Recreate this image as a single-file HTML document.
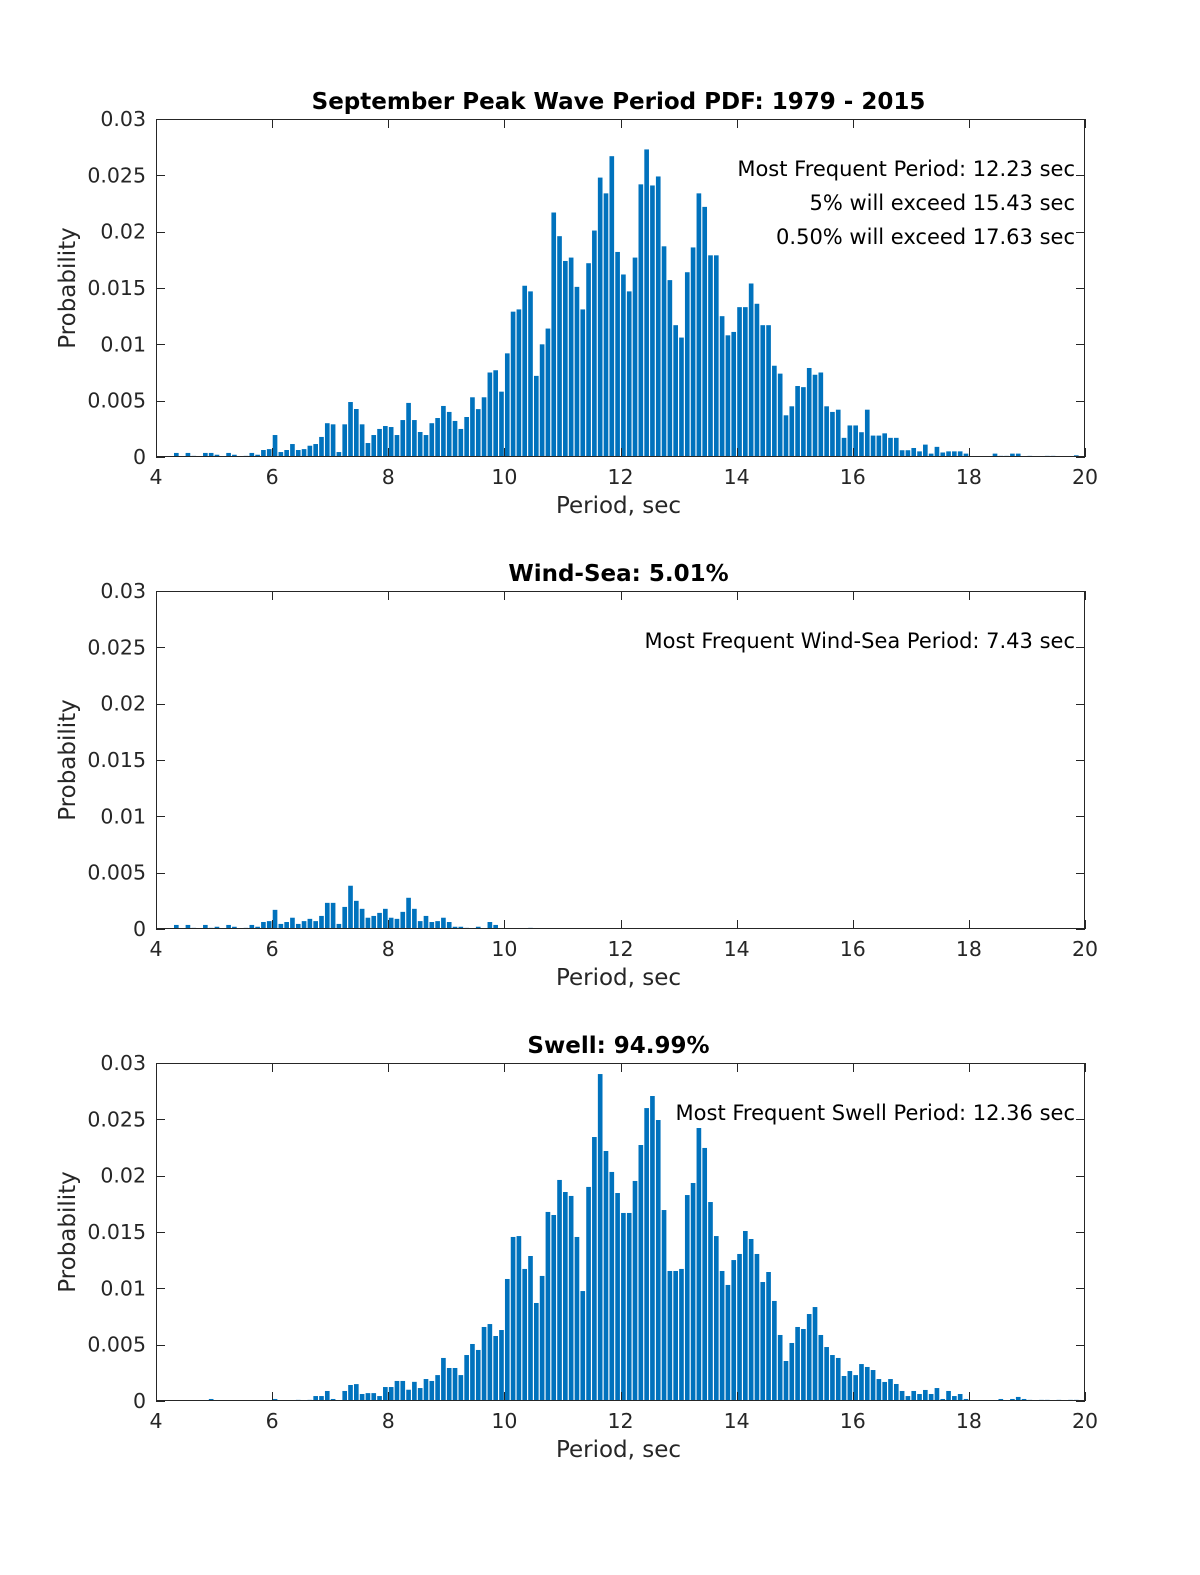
<!DOCTYPE html>
<html><head><meta charset="utf-8"><style>
html,body{margin:0;padding:0;background:#fff;}
svg{display:block;font-family:"DejaVu Sans","Liberation Sans",sans-serif;}
</style></head><body>
<svg id="fig" width="1200" height="1575" viewBox="0 0 1200 1575" xmlns="http://www.w3.org/2000/svg"></svg>
<script>
// Data: probability per 0.1-sec period bin, starting at bin centre 4.05 s
const binStart = 4.05;
const binStep = 0.1;
const totalPdf = [
0,0,0,.00036,0,.00036,.0001,0,.00036,.00036,
.0002,0,.00036,.0002,0,.0001,.00036,.0002,.00062,.0007,
.00195,.00044,.00062,.00115,.00062,.0007,.001,.00115,.00178,.003,
.0029,.00044,.0029,.00488,.00426,.0029,.00124,.00195,.00249,.00275,
.00266,.00195,.00328,.0048,.00328,.00222,.00195,.003,.00346,.00453,
.004,.0032,.00249,.00355,.0053,.00425,.0053,.0075,.0077,.0058,
.0092,.0129,.0131,.0152,.0147,.0072,.01,.0114,.0217,.0196,
.0174,.0177,.0151,.0131,.0172,.0201,.0248,.0234,.0267,.0182,
.0162,.0147,.0177,.0242,.0273,.0241,.0249,.0187,.0157,.0117,
.0106,.0164,.0186,.0234,.0222,.0179,.0179,.0125,.0108,.0111,
.0133,.0133,.0154,.0136,.0117,.0117,.0081,.0074,.0037,.0045,
.0063,.0062,.0079,.0073,.0075,.0045,.004,.0042,.0017,.0028,
.0028,.0022,.0042,.0019,.0019,.0021,.0017,.0017,.0006,.0006,
.0008,.0005,.0011,.0003,.0009,.0004,.0005,.0005,.0005,.0003,
.00005,0,.00005,0,.0003,.0001,.0001,.0003,.0003,0,
.0001,0,0,.0001,.0001,0,0,0,.00015,0];
const windSeaPdf = [
0,0,0,.00036,0,.00036,.0001,0,.00036,.0001,
.0002,0,.00036,.0002,0,.0001,.00036,.0002,.00062,.0007,
.0017,.00045,.00062,.001,.00045,.0007,.0009,.0007,.00116,.00232,
.00232,.00045,.00196,.00384,.0025,.00179,.001,.00116,.00143,.00179,
.001,.0009,.00152,.00277,.00179,.0007,.00116,.00062,.0007,.001,
.00062,.0002,.0002,.0001,0,.0002,0,.00062,.00036,0,
0,0,0,0,.0001,0,0,0,0,0,
0,0,0,0,0,0,0,0,0,0, 0,0,0,0,0,0,0,0,0,0,
0,0,0,0,0,0,0,0,0,0, 0,0,0,0,0,0,0,0,0,0,
0,0,0,0,0,0,0,0,0,0, 0,0,0,0,0,0,0,0,0,0,
0,0,0,0,0,0,0,0,0,0, 0,0,0,0,0,0,0,0,0,0,
0,0,0,0,0,0,0,0,0,0];
const swellPdf = [
0,0,0,0,0,0,0,0,0,.00018,
0,0,0,0,0,0,0,0,0,0,
.00018,0,0,0,.0001,0,.0001,.00044,.00044,.00089,
.00018,0,.00089,.00142,.0015,.00062,.0007,.0007,.00044,.00124,
.00124,.00178,.00178,.001,.0017,.00115,.00195,.00178,.0023,.00382,
.00293,.00293,.0023,.00408,.00506,.00453,.00657,.00683,.00577,.0063,
.01083,.01456,.01464,.01172,.01287,.0087,.0111,.01678,.01651,.01962,
.01855,.0182,.01456,.00976,.019,.02343,.02902,.02219,.02033,.01846,
.01669,.01669,.01953,.02272,.026,.02707,.02494,.01695,.01154,.01154,
.01172,.01828,.01935,.02423,.02246,.01766,.01464,.01154,.0103,.01251,
.01305,.01509,.01438,.01305,.01056,.01145,.00888,.00586,.00355,.00515,
.00657,.00639,.00772,.00834,.00586,.00479,.00408,.00382,.00222,.00266,
.0023,.00328,.00302,.00275,.00195,.00169,.00195,.00151,.00089,.00044,
.00089,.00062,.00098,.00062,.00115,.00018,.00089,.00044,.00062,.00018,
0,0,0,0,0,.00018,0,.00018,.00036,.00018,
.0001,0,.0001,.0001,0,.0001,0,.0001,.0001,0];
const xTickValues = [4,6,8,10,12,14,16,18,20];
const xTickLabels = ["4","6","8","10","12","14","16","18","20"];
const yTickValues = [0,0.005,0.01,0.015,0.02,0.025,0.03];
const yTickLabels = ["0","0.005","0.01","0.015","0.02","0.025","0.03"];
const titles = ["September Peak Wave Period PDF: 1979 - 2015","Wind-Sea: 5.01%","Swell: 94.99%"];
const notesTotal = ["Most Frequent Period: 12.23 sec","5% will exceed 15.43 sec","0.50% will exceed 17.63 sec"];
const notesWind = ["Most Frequent Wind-Sea Period: 7.43 sec"];
const notesSwell = ["Most Frequent Swell Period: 12.36 sec"];

const NS = "http://www.w3.org/2000/svg";
const svg = document.getElementById('fig');
const L = 156, R = 1085, xMin = 4, xMax = 20, yMax = 0.03;
function mk(tag, attrs, parent){ const e=document.createElementNS(NS,tag); for(const k in attrs) e.setAttribute(k,attrs[k]); parent.appendChild(e); return e; }

function drawPanel(top, bottom, values, title, notes, key){
  const g = mk('g',{},svg);
  
  
  const xs = v => L + (v-xMin)/(xMax-xMin)*(R-L);
  const ys = v => bottom - v/yMax*(bottom-top);
  const bw = binStep*(R-L)/(xMax-xMin)*0.8;
  const bars = mk('g',{},g);
  
  
  values.forEach((v,i)=>{
    if(v<=0) return;
    const c = binStart + i*binStep;
    const r = mk('rect',{x:(xs(c)-bw/2).toFixed(2), y:ys(v).toFixed(2), width:bw.toFixed(2), height:(bottom-ys(v)).toFixed(2), fill:'#0072BD'}, bars);
    
    
  });
  const box = mk('rect',{x:L+0.5,y:top+0.5,width:R-L-1,height:bottom-top-1,fill:'none',stroke:'#262626','stroke-width':1},g);
  
  
  xTickValues.forEach((v,i)=>{
    const x = Math.round(xs(v))+0.5;
    mk('line',{x1:x,y1:bottom,x2:x,y2:bottom-9,stroke:'#262626'},g);
    mk('line',{x1:x,y1:top,x2:x,y2:top+9,stroke:'#262626'},g);
    const t = mk('text',{x:xs(v),y:bottom+27,'text-anchor':'middle','font-size':20.5,fill:'#262626'},g);
    t.textContent = xTickLabels[i];
    
    
  });
  yTickValues.forEach((v,i)=>{
    const y = Math.round(ys(v))+0.5;
    mk('line',{x1:L,y1:y,x2:L+9,y2:y,stroke:'#262626'},g);
    mk('line',{x1:R,y1:y,x2:R-9,y2:y,stroke:'#262626'},g);
    const t = mk('text',{x:146,y:ys(v)+7,'text-anchor':'end','font-size':20.5,fill:'#262626'},g);
    t.textContent = yTickLabels[i];
    
    
  });
  const xl = mk('text',{x:(L+R)/2-2,y:bottom+56,'text-anchor':'middle','font-size':23,fill:'#262626'},g);
  xl.textContent = 'Period, sec';
  
  
  const cy = (top+bottom)/2;
  const yl = mk('text',{x:75,y:cy,'text-anchor':'middle','font-size':23,fill:'#262626',transform:'rotate(-90 75 '+cy+')'},g);
  yl.textContent = 'Probability';
  
  
  const tt = mk('text',{x:(L+R)/2-2,y:top-10,'text-anchor':'middle','font-size':23,'font-weight':'bold',fill:'#000'},g);
  tt.textContent = title;
  
  
  notes.forEach((n,i)=>{
    const t = mk('text',{x:1075,y:top+57+i*34,'text-anchor':'end','font-size':21,fill:'#000'},g);
    t.textContent = n;
    
    
  });
}
drawPanel(119, 457, totalPdf, titles[0], notesTotal, 'total');
drawPanel(591, 929, windSeaPdf, titles[1], notesWind, 'wind-sea');
drawPanel(1063, 1401, swellPdf, titles[2], notesSwell, 'swell');
</script>
</body></html>
